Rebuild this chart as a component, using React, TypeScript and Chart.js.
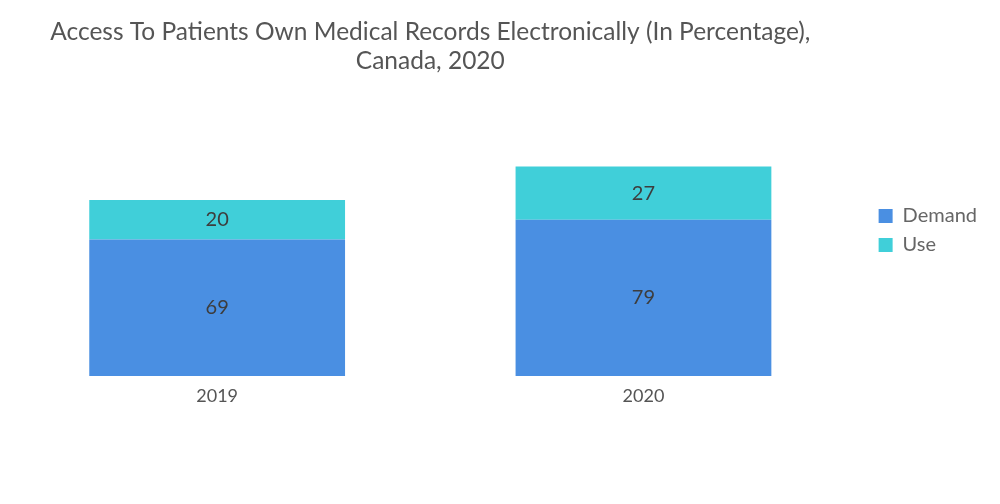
import React, { useEffect, useRef } from "react";
import { Chart, registerables } from "chart.js";

Chart.register(...registerables);

const categories = ["2019", "2020"];
const demandValues = [69, 79];
const useValues = [20, 27];
const titleLines = [
  "Access To Patients Own Medical Records Electronically (In Percentage),",
  "Canada, 2020",
];

const FONT = "Lato, 'Open Sans', sans-serif";

const valueLabels = {
  id: "valueLabels",
  afterDatasetsDraw(chart: any) {
    const ctx = chart.ctx;
    ctx.save();
    ctx.font = `20px ${FONT}`;
    ctx.fillStyle = "#3d3d3d";
    ctx.textAlign = "center";
    ctx.textBaseline = "middle";
    chart.data.datasets.forEach((ds: any, i: number) => {
      const meta = chart.getDatasetMeta(i);
      meta.data.forEach((el: any, j: number) => {
        const p = el.getProps(["x", "y", "base"], true);
        ctx.fillText(String(ds.data[j]), p.x, (p.y + p.base) / 2);
      });
    });
    ctx.restore();
  },
};

export default function App() {
  const ref = useRef<HTMLCanvasElement | null>(null);
  useEffect(() => {
    if (!ref.current) return;
    const chart = new Chart(ref.current, {
      type: "bar",
      data: {
        labels: categories,
        datasets: [
          {
            label: "Demand",
            data: demandValues,
            backgroundColor: "#4a8fe2",
            barPercentage: 0.6,
            categoryPercentage: 1,
          },
          {
            label: "Use",
            data: useValues,
            backgroundColor: "#40cfd9",
            barPercentage: 0.6,
            categoryPercentage: 1,
          },
        ],
      },
      options: {
        animation: false,
        responsive: true,
        maintainAspectRatio: false,
        layout: { padding: { left: 4, right: 13, top: 0, bottom: 43 } },
        scales: {
          x: {
            stacked: true,
            grid: { display: false },
            border: { display: false },
            ticks: { font: { family: FONT, size: 18 }, color: "#555", padding: 1 },
            afterFit: (s: any) => {
              s.height = 504 - 43 - 376;
            },
          },
          y: {
            stacked: true,
            position: "right",
            min: 0,
            max: 120,
            grid: { display: false },
            border: { display: false },
            ticks: { display: false },
            afterFit: (s: any) => {
              s.width = 13;
            },
          },
        },
        plugins: {
          title: {
            display: true,
            text: titleLines,
            fullSize: false,
            color: "#555",
            font: { family: FONT, size: 24.5, weight: "normal", lineHeight: 1.18 },
            padding: { top: 18, bottom: 63 },
          },
          legend: {
            position: "right",
            labels: {
              boxWidth: 14,
              boxHeight: 14,
              padding: 9,
              color: "#666",
              font: { family: FONT, size: 20 },
            },
          },
          tooltip: { enabled: false },
        },
      },
      plugins: [valueLabels],
    });
    return () => chart.destroy();
  }, []);
  return (
    <div style={{ position: "absolute", left: 0, top: 0, width: 1000, height: 504 }}>
      <canvas ref={ref} />
    </div>
  );
}
